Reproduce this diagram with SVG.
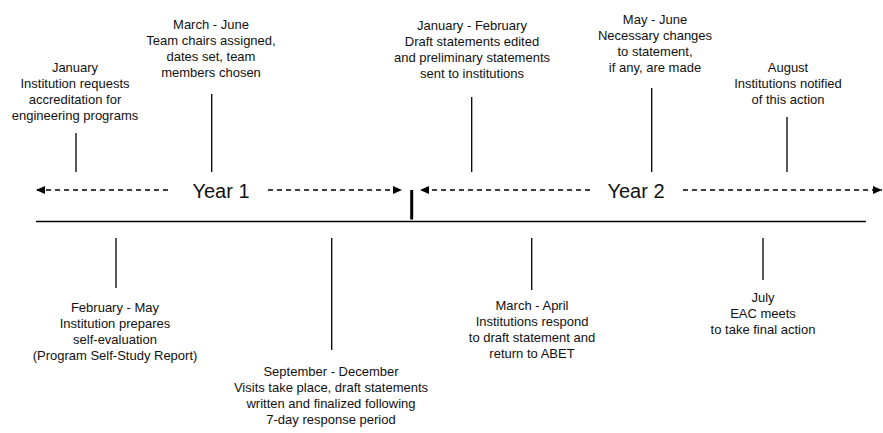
<svg xmlns="http://www.w3.org/2000/svg" width="883" height="433" viewBox="0 0 883 433">
<style>
text{font-family:"Liberation Sans",Arial,sans-serif;font-size:13px;fill:#111;text-anchor:middle}
.yr{font-size:20px}
.tick{stroke:#000;stroke-width:1.3}
.dash{stroke:#000;stroke-width:1.3;stroke-dasharray:5 4;fill:none}
</style>
<defs>
<marker id="ah" markerUnits="userSpaceOnUse" markerWidth="10" markerHeight="8" refX="9" refY="4" orient="auto">
<path d="M0,0 L9,4 L0,8 Z" fill="#000"/>
</marker>
</defs>
<rect width="883" height="433" fill="#fff"/>
<g id="connectors">
<line x1="36" y1="221.5" x2="866" y2="221.5" stroke="#000" stroke-width="1.5"/>
<line x1="411.7" y1="190" x2="411.7" y2="219.5" stroke="#000" stroke-width="3"/>
<line class="dash" x1="168" y1="190" x2="36" y2="190" marker-end="url(#ah)"/>
<line class="dash" x1="268" y1="190" x2="402" y2="190" marker-end="url(#ah)"/>
<line class="dash" x1="590" y1="190" x2="420" y2="190" marker-end="url(#ah)"/>
<line class="dash" x1="683" y1="190" x2="882" y2="190" marker-end="url(#ah)"/>
</g>
<g id="year1"><text class="yr" x="221" y="198">Year 1</text></g>
<g id="year2"><text class="yr" x="636" y="198">Year 2</text></g>
<g id="jan">
<line class="tick" x1="76" y1="133" x2="76" y2="172"/>
<text x="75" y="72">January</text>
<text x="75" y="88">Institution requests</text>
<text x="75" y="104">accreditation for</text>
<text x="75" y="120">engineering programs</text>
</g>
<g id="marjun">
<line class="tick" x1="211.7" y1="94" x2="211.7" y2="172"/>
<text x="211" y="29">March - June</text>
<text x="211" y="45">Team chairs assigned,</text>
<text x="211" y="61">dates set, team</text>
<text x="211" y="77">members chosen</text>
</g>
<g id="janfeb">
<line class="tick" x1="471.7" y1="97" x2="471.7" y2="172"/>
<text x="472" y="30">January - February</text>
<text x="472" y="46">Draft statements edited</text>
<text x="472" y="62">and preliminary statements</text>
<text x="472" y="78">sent to institutions</text>
</g>
<g id="mayjun">
<line class="tick" x1="651.7" y1="88" x2="651.7" y2="172"/>
<text x="655" y="24">May - June</text>
<text x="655" y="40">Necessary changes</text>
<text x="655" y="56">to statement,</text>
<text x="655" y="72">if any, are made</text>
</g>
<g id="aug">
<line class="tick" x1="787" y1="117" x2="787" y2="172"/>
<text x="788" y="72">August</text>
<text x="788" y="88">Institutions notified</text>
<text x="788" y="104">of this action</text>
</g>
<g id="febmay">
<line class="tick" x1="116" y1="238" x2="116" y2="288"/>
<text x="115" y="312">February - May</text>
<text x="115" y="328">Institution prepares</text>
<text x="115" y="344">self-evaluation</text>
<text x="115" y="360">(Program Self-Study Report)</text>
</g>
<g id="sepdec">
<line class="tick" x1="331.7" y1="238" x2="331.7" y2="350"/>
<text x="331" y="376">September - December</text>
<text x="331" y="392">Visits take place, draft statements</text>
<text x="331" y="408">written and finalized following</text>
<text x="331" y="424">7-day response period</text>
</g>
<g id="marapr">
<line class="tick" x1="531.7" y1="238" x2="531.7" y2="290"/>
<text x="532" y="310">March - April</text>
<text x="532" y="326">Institutions respond</text>
<text x="532" y="342">to draft statement and</text>
<text x="532" y="358">return to ABET</text>
</g>
<g id="jul">
<line class="tick" x1="763" y1="238" x2="763" y2="280"/>
<text x="763" y="302">July</text>
<text x="763" y="318">EAC meets</text>
<text x="763" y="334">to take final action</text>
</g>
</svg>
